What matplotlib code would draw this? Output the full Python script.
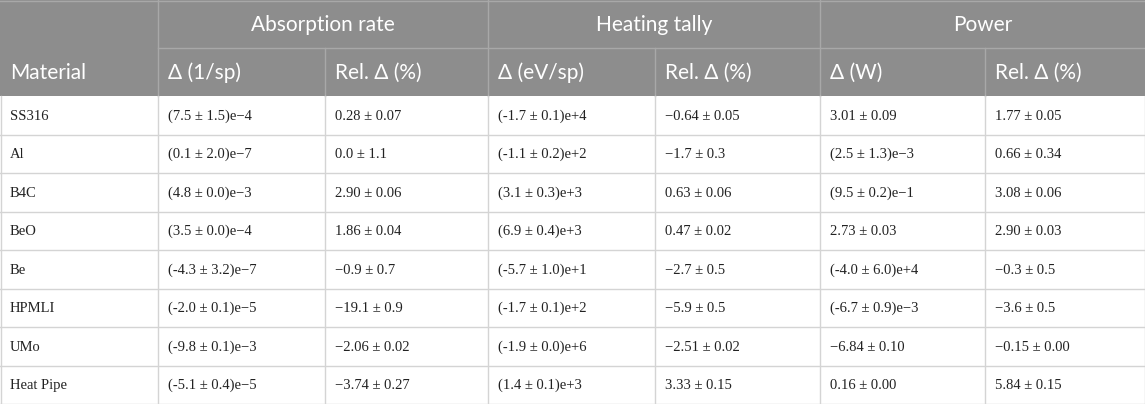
import matplotlib
matplotlib.use("Agg")
import matplotlib.pyplot as plt

# table content
groups = ["Absorption rate", "Heating tally", "Power"]
columns = ["Material", "Δ (1/sp)", "Rel. Δ (%)", "Δ (eV/sp)", "Rel. Δ (%)", "Δ (W)", "Rel. Δ (%)"]
materials = ["SS316", "Al", "B4C", "BeO", "Be", "HPMLI", "UMo", "Heat Pipe"]
abs_delta = ["(7.5 ± 1.5)e−4", "(0.1 ± 2.0)e−7", "(4.8 ± 0.0)e−3", "(3.5 ± 0.0)e−4",
             "(-4.3 ± 3.2)e−7", "(-2.0 ± 0.1)e−5", "(-9.8 ± 0.1)e−3", "(-5.1 ± 0.4)e−5"]
abs_rel = ["0.28 ± 0.07", "0.0 ± 1.1", "2.90 ± 0.06", "1.86 ± 0.04",
           "−0.9 ± 0.7", "−19.1 ± 0.9", "−2.06 ± 0.02", "−3.74 ± 0.27"]
heat_delta = ["(-1.7 ± 0.1)e+4", "(-1.1 ± 0.2)e+2", "(3.1 ± 0.3)e+3", "(6.9 ± 0.4)e+3",
              "(-5.7 ± 1.0)e+1", "(-1.7 ± 0.1)e+2", "(-1.9 ± 0.0)e+6", "(1.4 ± 0.1)e+3"]
heat_rel = ["−0.64 ± 0.05", "−1.7 ± 0.3", "0.63 ± 0.06", "0.47 ± 0.02",
            "−2.7 ± 0.5", "−5.9 ± 0.5", "−2.51 ± 0.02", "3.33 ± 0.15"]
pow_delta = ["3.01 ± 0.09", "(2.5 ± 1.3)e−3", "(9.5 ± 0.2)e−1", "2.73 ± 0.03",
             "(-4.0 ± 6.0)e+4", "(-6.7 ± 0.9)e−3", "−6.84 ± 0.10", "0.16 ± 0.00"]
pow_rel = ["1.77 ± 0.05", "0.66 ± 0.34", "3.08 ± 0.06", "2.90 ± 0.03",
           "−0.3 ± 0.5", "−3.6 ± 0.5", "−0.15 ± 0.00", "5.84 ± 0.15"]

# layout (pixels)
W, H = 1145, 404
col_x = [0, 158, 325, 488, 655, 820, 985, 1145]
h1, h2 = 48, 96
row_h = (H - h2) / len(materials)

head_bg = "#8d8d8d"
head_line = "#a8a8a8"
grid = "#d4d4d4"

fig = plt.figure(figsize=(W / 100, H / 100), dpi=100)
ax = fig.add_axes([0, 0, 1, 1])
ax.set_xlim(0, W)
ax.set_ylim(H, 0)
ax.axis("off")

# header background
ax.add_patch(plt.Rectangle((0, 0), W, h2, color=head_bg, lw=0))
ax.plot([0, W], [0.5, 0.5], color=head_line, lw=1)
ax.plot([col_x[1], W], [h1, h1], color=head_line, lw=1)
for i, x in enumerate(col_x[1:-1], start=1):
    y0 = 0 if i % 2 == 1 else h1
    ax.plot([x, x], [y0, h2], color=head_line, lw=1)

hfont = dict(family="Lato", fontsize=15, color="white")
for g, name in enumerate(groups):
    xc = (col_x[1 + 2 * g] + col_x[3 + 2 * g]) / 2
    ax.text(xc, h1 / 2 + 1, name, ha="center", va="center", **hfont)
for i, name in enumerate(columns):
    ax.text(col_x[i] + 10, (h1 + h2) / 2 + 1, name, ha="left", va="center", **hfont)

# body
data = [materials, abs_delta, abs_rel, heat_delta, heat_rel, pow_delta, pow_rel]
for r in range(len(materials)):
    y = h2 + r * row_h
    ax.plot([0, W], [y + row_h, y + row_h], color=grid, lw=1)
    for c, colvals in enumerate(data):
        ax.text(col_x[c] + 10, y + row_h / 2 + 1, colvals[r], ha="left", va="center",
                family="Liberation Serif", fontsize=10.5, color="#222222")
for x in col_x:
    xx = min(max(x, 0.5), W - 0.5)
    ax.plot([xx, xx], [h2, H], color=grid, lw=1)

fig.savefig("out.png", dpi=100)
